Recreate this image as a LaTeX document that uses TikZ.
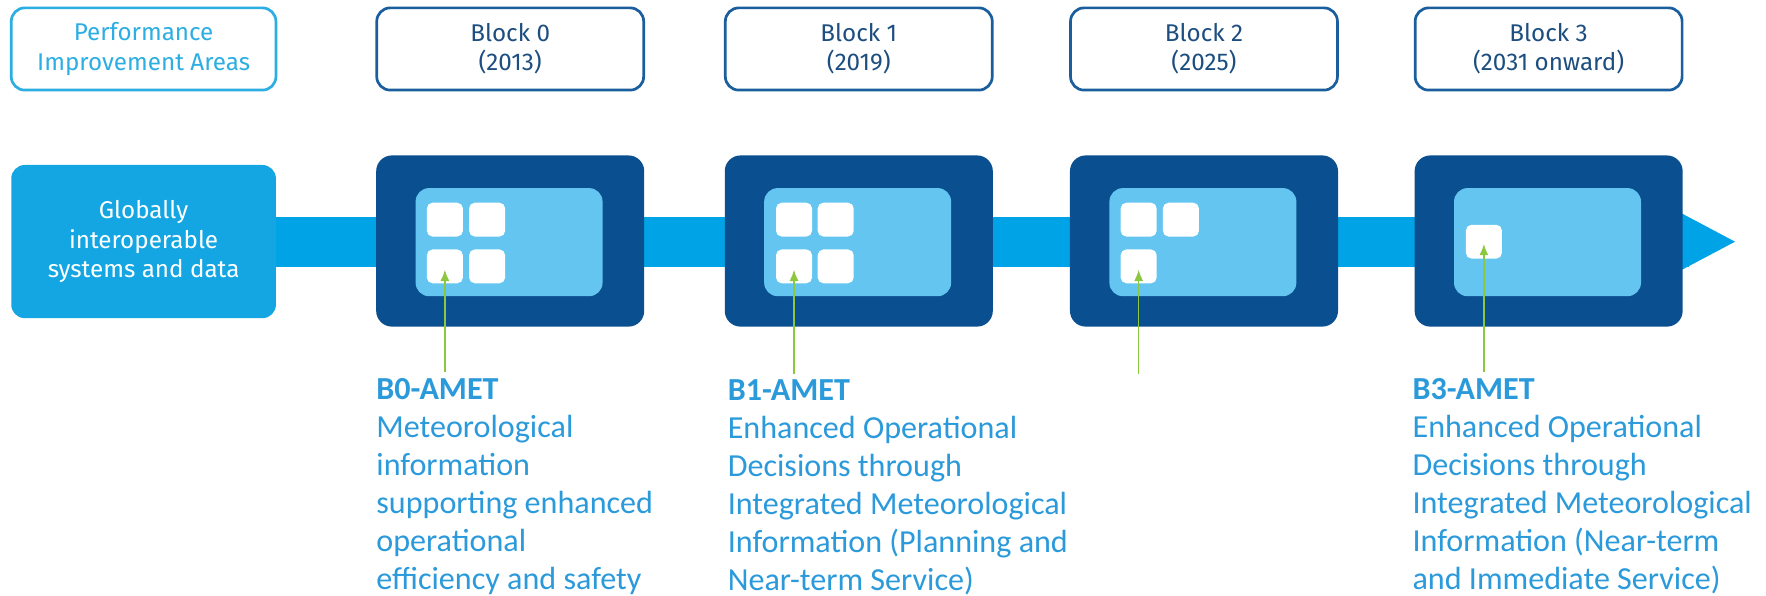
\documentclass[tikz,border=0pt]{standalone}
\usepackage{fontspec}
\setmainfont{Carlito}
\newfontfamily\dinf{Fira Sans}
\usetikzlibrary{arrows.meta,calc}
\definecolor{navy}{HTML}{0A5090}
\definecolor{innerblue}{HTML}{64C5F0}
\definecolor{bandblue}{HTML}{00A4E6}
\definecolor{leftblue}{HTML}{14A6E2}
\definecolor{perfcyan}{HTML}{2CAEE3}
\definecolor{blockline}{HTML}{1B5E9E}
\definecolor{blocktext}{HTML}{1D4E80}
\definecolor{arrowgreen}{HTML}{8DC63F}
\definecolor{desctext}{HTML}{2B9ADB}
\tikzset{
  topbox/.style={draw=blockline, line width=2.4pt, rounded corners=12pt, fill=white,
    minimum width=237pt, minimum height=73pt, inner sep=0pt, align=center,
    text=blocktext, font=\dinf\fontsize{21.5}{26}\selectfont},
  perfbox/.style={topbox, draw=perfcyan, text=perfcyan, minimum width=235pt},
  darkbox/.style={fill=navy, rounded corners=14pt, minimum width=238pt, minimum height=152pt, inner sep=0pt},
  innerbox/.style={fill=innerblue, rounded corners=12pt, minimum width=166pt, minimum height=96pt, inner sep=0pt},
  sqbox/.style={fill=white, rounded corners=5pt, minimum width=32pt, minimum height=30pt, inner sep=0pt},
  leftbox/.style={fill=leftblue, rounded corners=12pt, minimum width=235pt, minimum height=136pt,
    inner sep=0pt, align=center, text=white, font=\dinf\fontsize{21.5}{26}\selectfont},
  garrow/.style={draw=arrowgreen, line width=1.3pt, -{Latex[length=10pt,width=8pt]}},
  desc/.style={anchor=north west, inner sep=0pt, align=left, text=desctext,
    font=\fontsize{28.5}{33.8}\selectfont},
}
\begin{document}
\begin{tikzpicture}[x=1pt,y=-1pt]
\fill[white] (0,0) rectangle (1568,529);
\useasboundingbox (0,0) rectangle (1568,529);

% top labels
\node[perfbox] (perf) at (127.5,43.5) {Performance\\Improvement Areas};
\node[topbox] (b0) at (453,43.5) {Block 0\\(2013)};
\node[topbox] (b1) at (762.5,43.5) {Block 1\\(2019)};
\node[topbox] (b2) at (1069,43.5) {Block 2\\(2025)};
\node[topbox] (b3) at (1375,43.5) {Block 3\\(2031 onward)};

% band and arrow head
\fill[bandblue] (245,193) rectangle (1500,237);
\fill[bandblue] (1493,189.4) -- (1540.5,214.6) -- (1493,239.7) -- cycle;

% left box
\node[leftbox] (glob) at (127.5,214.5) {Globally\\interoperable\\systems and data};

% dark boxes
\node[darkbox] (d0) at (453,214) {};
\node[darkbox] (d1) at (762.5,214) {};
\node[darkbox] (d2) at (1069,214) {};
\node[darkbox] (d3) at (1375,214) {};

% inner boxes
\node[innerbox] (i0) at (452,215) {};
\node[innerbox] (i1) at (761.5,215) {};
\node[innerbox] (i2) at (1068,215) {};
\node[innerbox] (i3) at (1374,215) {};

% squares block 0
\node[sqbox] (s0a) at (395,195) {};
\node[sqbox] (s0b) at (432.5,195) {};
\node[sqbox] (s0c) at (395,236.5) {};
\node[sqbox] (s0d) at (432.5,236.5) {};
% squares block 1
\node[sqbox] (s1a) at (705,195) {};
\node[sqbox] (s1b) at (742,195) {};
\node[sqbox] (s1c) at (705,236.5) {};
\node[sqbox] (s1d) at (742,236.5) {};
% squares block 2
\node[sqbox] (s2a) at (1011,195) {};
\node[sqbox] (s2b) at (1048.5,195) {};
\node[sqbox] (s2c) at (1011,236.5) {};
% square block 3
\node[sqbox] (s3a) at (1317.5,214.6) {};

% arrow start points
\coordinate (a0) at (395,330);
\coordinate (a1) at (705,332);
\coordinate (a2) at (1011,332);
\coordinate (a3) at (1317.5,330);

\draw[garrow] (a0) -- ($(s0c.center)+(0,3)$);
\draw[garrow] (a1) -- ($(s1c.center)+(0,3)$);
\draw[garrow] (a2) -- ($(s2c.center)+(0,3)$);
\draw[garrow] (a3) -- ($(s3a.center)+(0,2)$);

% descriptions
\node[desc] (t0) at (334,335.5) {\textbf{B0-AMET}\\Meteorological\\information\\supporting enhanced\\operational\\efficiency and safety};
\node[desc] (t1) at (646,336.5) {\textbf{B1-AMET}\\Enhanced Operational\\Decisions through\\Integrated Meteorological\\Information (Planning and\\Near-term Service)};
\node[desc] (t3) at (1254,335.5) {\textbf{B3-AMET}\\Enhanced Operational\\Decisions through\\Integrated Meteorological\\Information (Near-term\\and Immediate Service)};
\end{tikzpicture}
\end{document}
